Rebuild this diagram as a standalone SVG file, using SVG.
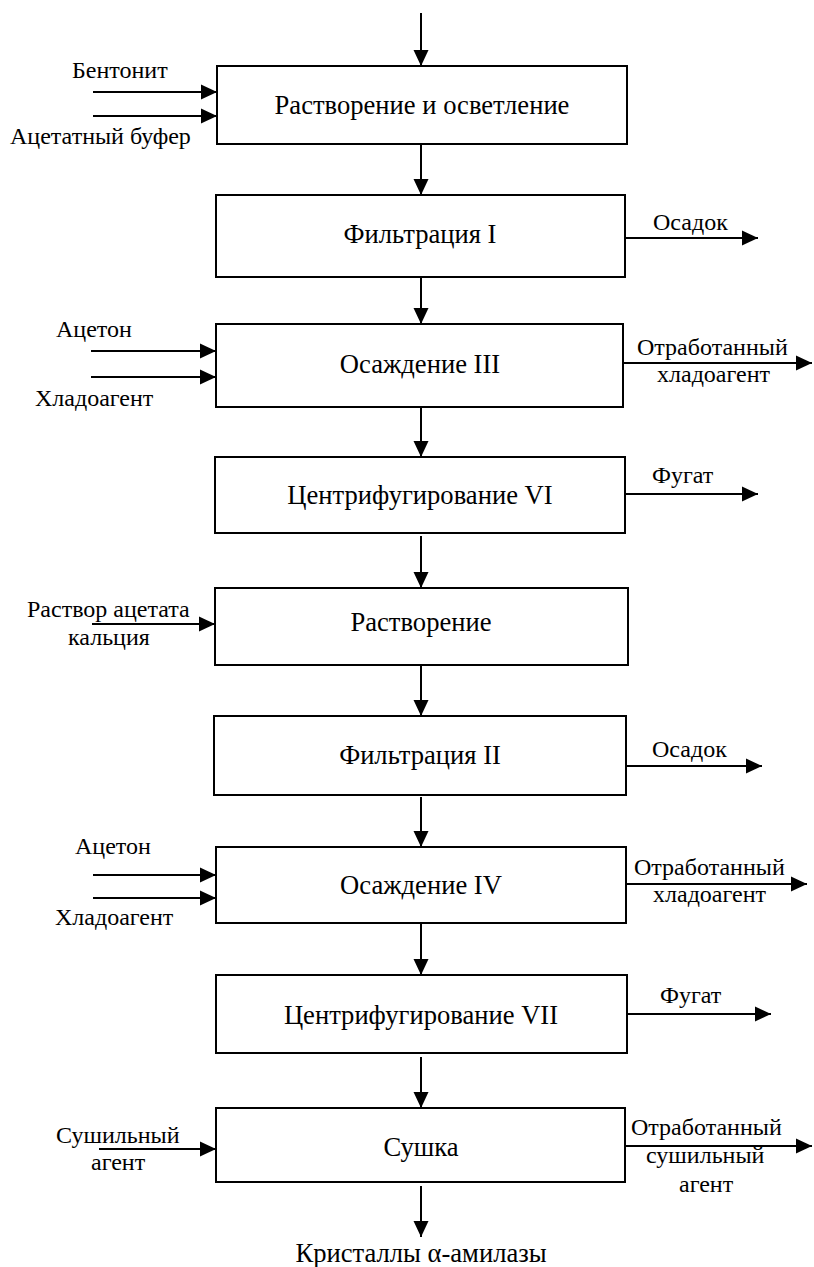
<svg xmlns="http://www.w3.org/2000/svg" width="814" height="1267" viewBox="0 0 814 1267">
  <style>
    .box { fill: #fff; stroke: #000; stroke-width: 2; }
    .flow { stroke: #000; stroke-width: 2; fill: none; marker-end: url(#head); }
    text { font-family: "Liberation Serif", "Times New Roman", serif; font-size: 24px; fill: #000; }
    .mid { text-anchor: middle; }
    .step { font-size: 26.6px; }
  </style>
  <defs>
    <marker id="head" markerUnits="userSpaceOnUse" markerWidth="16" markerHeight="16" refX="16" refY="8" orient="auto">
      <path d="M0,0.5 L16,8 L0,15.5 Z" fill="#000"/>
    </marker>
  </defs>
  <rect width="814" height="1267" fill="#fff"/>

  <!-- connectors -->
  <g id="connectors">
    <!-- main vertical flow -->
    <line class="flow" x1="421" y1="13" x2="421" y2="66"/>
    <line class="flow" x1="421" y1="145" x2="421" y2="195"/>
    <line class="flow" x1="421" y1="278" x2="421" y2="324"/>
    <line class="flow" x1="421" y1="408" x2="421" y2="457"/>
    <line class="flow" x1="421" y1="536" x2="421" y2="588"/>
    <line class="flow" x1="421" y1="666" x2="421" y2="716"/>
    <line class="flow" x1="421" y1="797" x2="421" y2="847"/>
    <line class="flow" x1="421" y1="924" x2="421" y2="975"/>
    <line class="flow" x1="421" y1="1057" x2="421" y2="1108"/>
    <line class="flow" x1="421" y1="1186" x2="421" y2="1237"/>

    <!-- inputs -->
    <line class="flow" x1="93" y1="92" x2="217" y2="92"/>
    <line class="flow" x1="93" y1="116" x2="217" y2="116"/>
    <line class="flow" x1="91" y1="351" x2="216" y2="351"/>
    <line class="flow" x1="91" y1="377" x2="216" y2="377"/>
    <line class="flow" x1="92" y1="624" x2="215" y2="624"/>
    <line class="flow" x1="93" y1="875" x2="216" y2="875"/>
    <line class="flow" x1="93" y1="898" x2="216" y2="898"/>
    <line class="flow" x1="99" y1="1149" x2="216" y2="1149"/>

    <!-- outputs -->
    <line class="flow" x1="625" y1="238" x2="758" y2="238"/>
    <line class="flow" x1="623" y1="363" x2="812" y2="363"/>
    <line class="flow" x1="625" y1="494" x2="758" y2="494"/>
    <line class="flow" x1="626" y1="766" x2="762" y2="766"/>
    <line class="flow" x1="626" y1="884" x2="807" y2="884"/>
    <line class="flow" x1="627" y1="1014" x2="771" y2="1014"/>
    <line class="flow" x1="625" y1="1146" x2="812" y2="1146"/>
  </g>

  <!-- process steps -->
  <g id="dissolution-clarification">
    <rect class="box" x="217" y="66" width="410" height="78"/>
    <text class="mid step" x="422" y="114">Растворение и осветление</text>
  </g>
  <g id="filtration-1">
    <rect class="box" x="216" y="195" width="409" height="82"/>
    <text class="mid step" x="420" y="243">Фильтрация I</text>
  </g>
  <g id="precipitation-3">
    <rect class="box" x="216" y="324" width="407" height="83"/>
    <text class="mid step" x="420" y="373">Осаждение III</text>
  </g>
  <g id="centrifugation-6">
    <rect class="box" x="215" y="457" width="410" height="76"/>
    <text class="mid step" x="420" y="504">Центрифугирование VI</text>
  </g>
  <g id="dissolution">
    <rect class="box" x="215" y="588" width="413" height="77"/>
    <text class="mid step" x="421" y="631">Растворение</text>
  </g>
  <g id="filtration-2">
    <rect class="box" x="214" y="716" width="412" height="79"/>
    <text class="mid step" x="420" y="764">Фильтрация II</text>
  </g>
  <g id="precipitation-4">
    <rect class="box" x="216" y="847" width="410" height="76"/>
    <text class="mid step" x="421" y="894">Осаждение IV</text>
  </g>
  <g id="centrifugation-7">
    <rect class="box" x="216" y="975" width="411" height="78"/>
    <text class="mid step" x="421" y="1024">Центрифугирование VII</text>
  </g>
  <g id="drying">
    <rect class="box" x="216" y="1108" width="409" height="74"/>
    <text class="mid step" x="421" y="1156">Сушка</text>
  </g>

  <!-- stream labels -->
  <g id="stream-labels">
    <text x="72" y="78">Бентонит</text>
    <text x="10" y="144">Ацетатный буфер</text>
    <text x="653" y="230">Осадок</text>
    <text x="56" y="337">Ацетон</text>
    <text x="35" y="406">Хладоагент</text>
    <text x="637" y="355">Отработанный</text>
    <text x="657" y="382">хладоагент</text>
    <text x="652" y="483">Фугат</text>
    <text x="27" y="617">Раствор ацетата</text>
    <text x="68" y="645">кальция</text>
    <text x="652" y="757">Осадок</text>
    <text x="75" y="854">Ацетон</text>
    <text x="55" y="925">Хладоагент</text>
    <text x="634" y="875">Отработанный</text>
    <text x="653" y="902">хладоагент</text>
    <text x="660" y="1003">Фугат</text>
    <text x="56" y="1143">Сушильный</text>
    <text x="91" y="1170">агент</text>
    <text x="631" y="1135">Отработанный</text>
    <text x="646" y="1163">сушильный</text>
    <text x="679" y="1192">агент</text>
    <text class="mid step" x="421" y="1262">Кристаллы α-амилазы</text>
  </g>
</svg>
